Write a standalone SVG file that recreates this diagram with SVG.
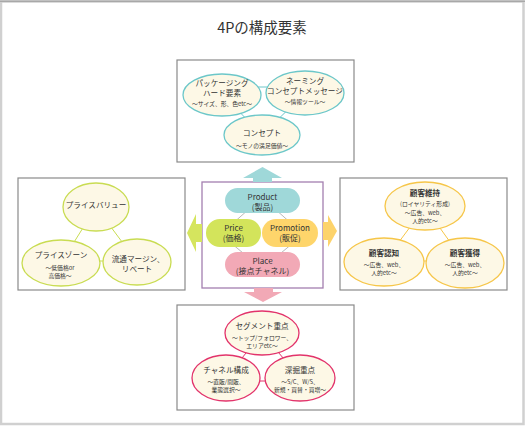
<svg xmlns="http://www.w3.org/2000/svg" width="525" height="426" viewBox="0 0 525 426">
<style>
text{font-family:"Noto Sans CJK JP","Noto Sans",sans-serif;fill:#333;text-anchor:middle}
.t{font-size:7.6px}
.b{font-size:7.6px;font-weight:bold}
.s{font-size:5.8px}
.p{font-size:8px}
.box{fill:#fff;stroke:#8a8a8a;stroke-width:1.2}
.eT{fill:#fdf8e6;stroke:#6cc7c9;stroke-width:1.3}
.eL{fill:#fdf8e6;stroke:#c9dc52;stroke-width:1.3}
.eR{fill:#fdf8e6;stroke:#f6c649;stroke-width:1.3}
.eB{fill:#fdf8e6;stroke:#e2336b;stroke-width:1.3}
.cT{stroke:#6cc7c9;stroke-width:1}
.cL{stroke:#c9dc52;stroke-width:1}
.cR{stroke:#f6c649;stroke-width:1}
.cB{stroke:#e2336b;stroke-width:1}
.cC{stroke:#888;stroke-width:0.6}
</style>
<rect x="0" y="0" width="525" height="426" fill="#fff"/>
<rect x="1" y="1.5" width="522.5" height="422.5" fill="none" stroke="#d0d0d0" stroke-width="2.5"/>
<line x1="0" y1="1.3" x2="525" y2="1.3" stroke="#a8a8a8" stroke-width="1.4"/>
<text x="262" y="33" style="font-size:14.5px">4Pの構成要素</text>

<!-- boxes -->
<rect id="box-top" class="box" x="177" y="60" width="177" height="102"/>
<rect id="box-left" class="box" x="18" y="178" width="167" height="112"/>
<rect id="box-right" class="box" x="340" y="178" width="167" height="112"/>
<rect id="box-bottom" class="box" x="177" y="305" width="177" height="105"/>
<rect id="box-center" x="202" y="182" width="121" height="106" fill="#fff" stroke="#a47fb0" stroke-width="1.3"/>

<!-- arrows -->
<g id="arrows">
<polygon points="262.5,167 282,178 272,178 272,182 253,182 253,178 243,178" fill="#9fd8d9"/>
<polygon points="263,302 282,292 273,292 273,288 254,288 254,292 244,292" fill="#f2a9b6"/>
<polygon points="187,233 196,214 196,224 202,224 202,242 196,242 196,252" fill="#d5e55e"/>
<polygon points="337,231 328,215 328,222 323,222 323,240 328,240 328,247" fill="#fdd36b"/>
</g>

<!-- connectors -->
<g id="connectors" fill="none">
<line class="cT" x1="222" y1="87" x2="305" y2="87"/>
<line class="cT" x1="222" y1="94" x2="262" y2="135"/>
<line class="cT" x1="305" y1="93" x2="262" y2="135"/>
<line class="cL" x1="96" y1="207" x2="61" y2="263"/>
<line class="cL" x1="96" y1="207" x2="137" y2="262"/>
<line class="cL" x1="61" y1="261" x2="137" y2="261"/>
<line class="cR" x1="425" y1="207" x2="384" y2="262"/>
<line class="cR" x1="425" y1="207" x2="465" y2="263"/>
<line class="cR" x1="384" y1="261" x2="465" y2="261"/>
<line class="cB" x1="262" y1="333" x2="226" y2="378"/>
<line class="cB" x1="262" y1="333" x2="300" y2="378"/>
<line class="cB" x1="226" y1="381" x2="300" y2="381"/>
<line class="cC" x1="249" y1="209" x2="231" y2="225"/>
<line class="cC" x1="275" y1="209" x2="293" y2="225"/>
<line class="cC" x1="231" y1="243" x2="249" y2="258"/>
<line class="cC" x1="293" y1="243" x2="275" y2="258"/>
</g>

<!-- top -->
<g id="n-package"><ellipse class="eT" cx="222" cy="95" rx="39" ry="21"/>
<text class="t" x="222" y="86">パッケージング</text><text class="t" x="222" y="96">ハード要素</text><text class="s" x="222" y="106">～サイズ、形、色etc～</text></g>
<g id="n-naming"><ellipse class="eT" cx="305" cy="93" rx="39" ry="22"/>
<text class="t" x="305" y="84">ネーミング</text><text class="t" x="305" y="94">コンセプトメッセージ</text><text class="s" x="305" y="104">～情報ツール～</text></g>
<g id="n-concept"><ellipse class="eT" cx="262" cy="135" rx="38" ry="20"/>
<text class="t" x="262" y="136">コンセプト</text><text class="s" x="262" y="148">～モノの満足価値～</text></g>

<!-- left -->
<g id="n-pricevalue"><ellipse class="eL" cx="96" cy="207" rx="33" ry="24"/>
<text class="t" x="96" y="208">プライスバリュー</text></g>
<g id="n-pricezone"><ellipse class="eL" cx="61" cy="263" rx="39" ry="23"/>
<text class="t" x="61" y="257.5">プライスゾーン</text><text class="s" x="60" y="269.5">～低価格or</text><text class="s" x="60" y="278">高価格～</text></g>
<g id="n-margin"><ellipse class="eL" cx="137" cy="262" rx="34" ry="23"/>
<text class="t" x="138" y="262">流通マージン、</text><text class="t" x="137" y="272">リベート</text></g>

<!-- right -->
<g id="n-retain"><ellipse class="eR" cx="425" cy="206" rx="40" ry="24"/>
<text class="b" x="425" y="195.5">顧客維持</text><text class="s" x="425" y="206">(ロイヤリティ形成)</text><text class="s" x="425" y="214.5">～広告、web、</text><text class="s" x="425" y="223">人的etc～</text></g>
<g id="n-aware"><ellipse class="eR" cx="384" cy="262" rx="40" ry="24"/>
<text class="b" x="384" y="256">顧客認知</text><text class="s" x="384" y="266.5">～広告、web、</text><text class="s" x="384" y="275">人的etc～</text></g>
<g id="n-acquire"><ellipse class="eR" cx="465" cy="263" rx="39" ry="25"/>
<text class="b" x="465" y="256">顧客獲得</text><text class="s" x="465" y="266.5">～広告、web、</text><text class="s" x="465" y="275">人的etc～</text></g>

<!-- bottom -->
<g id="n-segment"><ellipse class="eB" cx="262" cy="333" rx="37" ry="22"/>
<text class="t" x="262" y="328.5">セグメント重点</text><text class="s" x="262" y="339.5">～トップ/フォロワー、</text><text class="s" x="262" y="348">エリアetc～</text></g>
<g id="n-channel"><ellipse class="eB" cx="226" cy="378" rx="34" ry="23"/>
<text class="t" x="226" y="372.5">チャネル構成</text><text class="s" x="226" y="383.5">～直販/間販、</text><text class="s" x="226" y="392">業態選択～</text></g>
<g id="n-deep"><ellipse class="eB" cx="300" cy="378" rx="35" ry="23"/>
<text class="t" x="300" y="372.5">深掘重点</text><text class="s" x="300" y="383.5">～S/C、W/S、</text><text class="s" x="300" y="392">新規・買替・買増～</text></g>

<!-- center pills -->
<g id="n-product"><rect x="225" y="188" width="75" height="25" rx="12.5" fill="#9fd8d9"/>
<text class="p" x="262.5" y="199.5">Product</text><text class="p" x="262.5" y="209.5">(製品)</text></g>
<g id="n-price"><rect x="206" y="219" width="55" height="28" rx="14" fill="#d3e45b"/>
<text class="p" x="233.5" y="231">Price</text><text class="p" x="233.5" y="241">(価格)</text></g>
<g id="n-promotion"><rect x="262" y="219" width="56" height="28" rx="14" fill="#fed56b"/>
<text class="p" x="290" y="231">Promotion</text><text class="p" x="290" y="241">(販促)</text></g>
<g id="n-place"><rect x="225" y="252" width="75" height="25" rx="12.5" fill="#f2a9b6"/>
<text class="p" x="262.5" y="264">Place</text><text class="p" x="262.5" y="274">(接点チャネル)</text></g>
</svg>
